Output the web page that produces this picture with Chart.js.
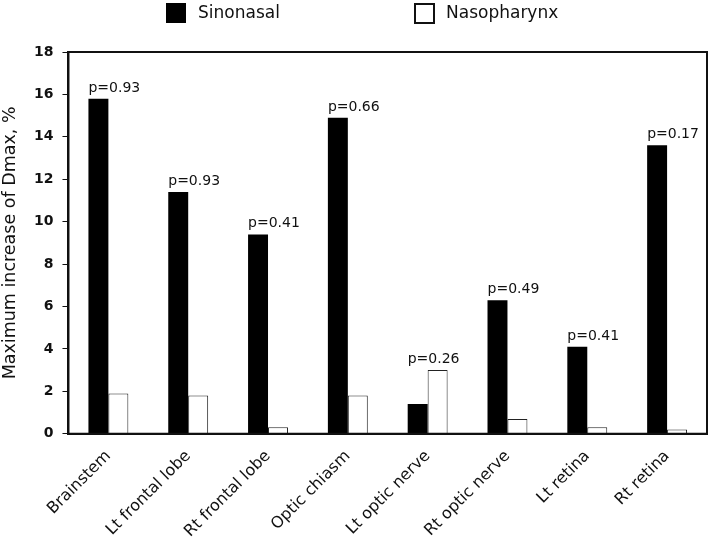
<!DOCTYPE html>
<html>
<head>
<meta charset="utf-8">
<script src="https://cdn.jsdelivr.net/npm/chart.js@4.4.1/dist/chart.umd.min.js"></script>
<style>
  html, body { margin: 0; padding: 0; background: #fff; }
  #wrap { width: 709px; height: 546px; }
</style>
</head>
<body>
<div id="wrap"><canvas id="myBarChart"></canvas></div>
<script>
// Daten
const organs = ['Brainstem', 'Lt frontal lobe', 'Rt frontal lobe', 'Optic chiasm',
                'Lt optic nerve', 'Rt optic nerve', 'Lt retina', 'Rt retina'];
const sinonasal = [15.8, 11.4, 9.4, 14.9, 1.4, 6.3, 4.1, 13.6];
const nasopharynx = [1.9, 1.8, 0.3, 1.8, 3.0, 0.7, 0.3, 0.2];
const pValues = ['p=0.93', 'p=0.93', 'p=0.41', 'p=0.66', 'p=0.26', 'p=0.49', 'p=0.41', 'p=0.17'];
const yMax = 18;
const yStep = 2;

const FONT = '"DejaVu Sans", Verdana, sans-serif';

// Rahmen um die Plotfläche
const framePlugin = {
    id: 'frame',
    afterDatasetsDraw(chart) {
        const { ctx, chartArea: a } = chart;
        ctx.save();
        ctx.strokeStyle = '#111';
        ctx.lineWidth = 2;
        ctx.strokeRect(a.left, a.top, a.right - a.left, a.bottom - a.top);
        ctx.restore();
    }
};

// p-Werte über dem jeweils höheren Balken
const pLabelPlugin = {
    id: 'pLabels',
    afterDatasetsDraw(chart) {
        const ctx = chart.ctx;
        const m0 = chart.getDatasetMeta(0).data;
        const m1 = chart.getDatasetMeta(1).data;
        ctx.save();
        ctx.font = '14px ' + FONT;
        ctx.fillStyle = '#111';
        ctx.textAlign = 'left';
        ctx.textBaseline = 'alphabetic';
        pValues.forEach((txt, i) => {
            const top = Math.min(m0[i].y, m1[i].y);
            const left = m0[i].x - m0[i].width / 2;
            ctx.fillText(txt, left, top - 7);
        });
        ctx.restore();
    }
};

// Legende oben
const legendPlugin = {
    id: 'topLegend',
    afterDraw(chart) {
        const ctx = chart.ctx;
        const starts = [166, 414];
        ctx.save();
        ctx.font = '17px ' + FONT;
        ctx.textBaseline = 'middle';
        ctx.textAlign = 'left';
        chart.data.datasets.forEach((ds, i) => {
            const x = starts[i];
            ctx.fillStyle = ds.backgroundColor;
            ctx.fillRect(x, 3, 20, 20);
            if (ds.borderWidth) {
                ctx.strokeStyle = '#111';
                ctx.lineWidth = 2;
                ctx.strokeRect(x + 1, 4, 19, 19);
            }
            ctx.fillStyle = '#111';
            ctx.fillText(ds.label, x + 32, 14);
        });
        ctx.restore();
    }
};

const ctx = document.getElementById('myBarChart').getContext('2d');
const chart = new Chart(ctx, {
    type: 'bar',
    data: {
        labels: organs,
        datasets: [{
            label: 'Sinonasal',
            data: sinonasal,
            backgroundColor: '#000000',
            borderWidth: 0
        }, {
            label: 'Nasopharynx',
            data: nasopharynx,
            backgroundColor: '#ffffff',
            borderColor: '#222222',
            borderWidth: 1
        }]
    },
    options: {
        responsive: true,
        maintainAspectRatio: false,
        animation: false,
        datasets: {
            bar: { categoryPercentage: 0.5, barPercentage: 1.0 }
        },
        layout: { padding: { top: 52, left: 0, right: 2, bottom: 0 } },
        plugins: {
            legend: { display: false },
            tooltip: { enabled: false }
        },
        scales: {
            x: {
                grid: { display: false },
                border: { display: true, color: '#111', width: 2 },
                ticks: {
                    color: '#111',
                    font: { family: FONT, size: 16 },
                    minRotation: 45,
                    maxRotation: 45,
                    padding: 5
                }
            },
            y: {
                min: 0,
                max: yMax,
                grid: {
                    drawOnChartArea: false,
                    drawTicks: true,
                    tickLength: 6,
                    color: '#111'
                },
                border: { display: true, color: '#111', width: 2 },
                ticks: {
                    stepSize: yStep,
                    color: '#111',
                    padding: 9,
                    font: { family: FONT, size: 14, weight: 'bold' }
                },
                title: {
                    display: true,
                    text: 'Maximum increase of Dmax, %',
                    color: '#111',
                    font: { family: FONT, size: 17.5 },
                    padding: { top: 0, bottom: 4 }
                }
            }
        }
    },
    plugins: [framePlugin, pLabelPlugin, legendPlugin]
});
</script>
</body>
</html>
